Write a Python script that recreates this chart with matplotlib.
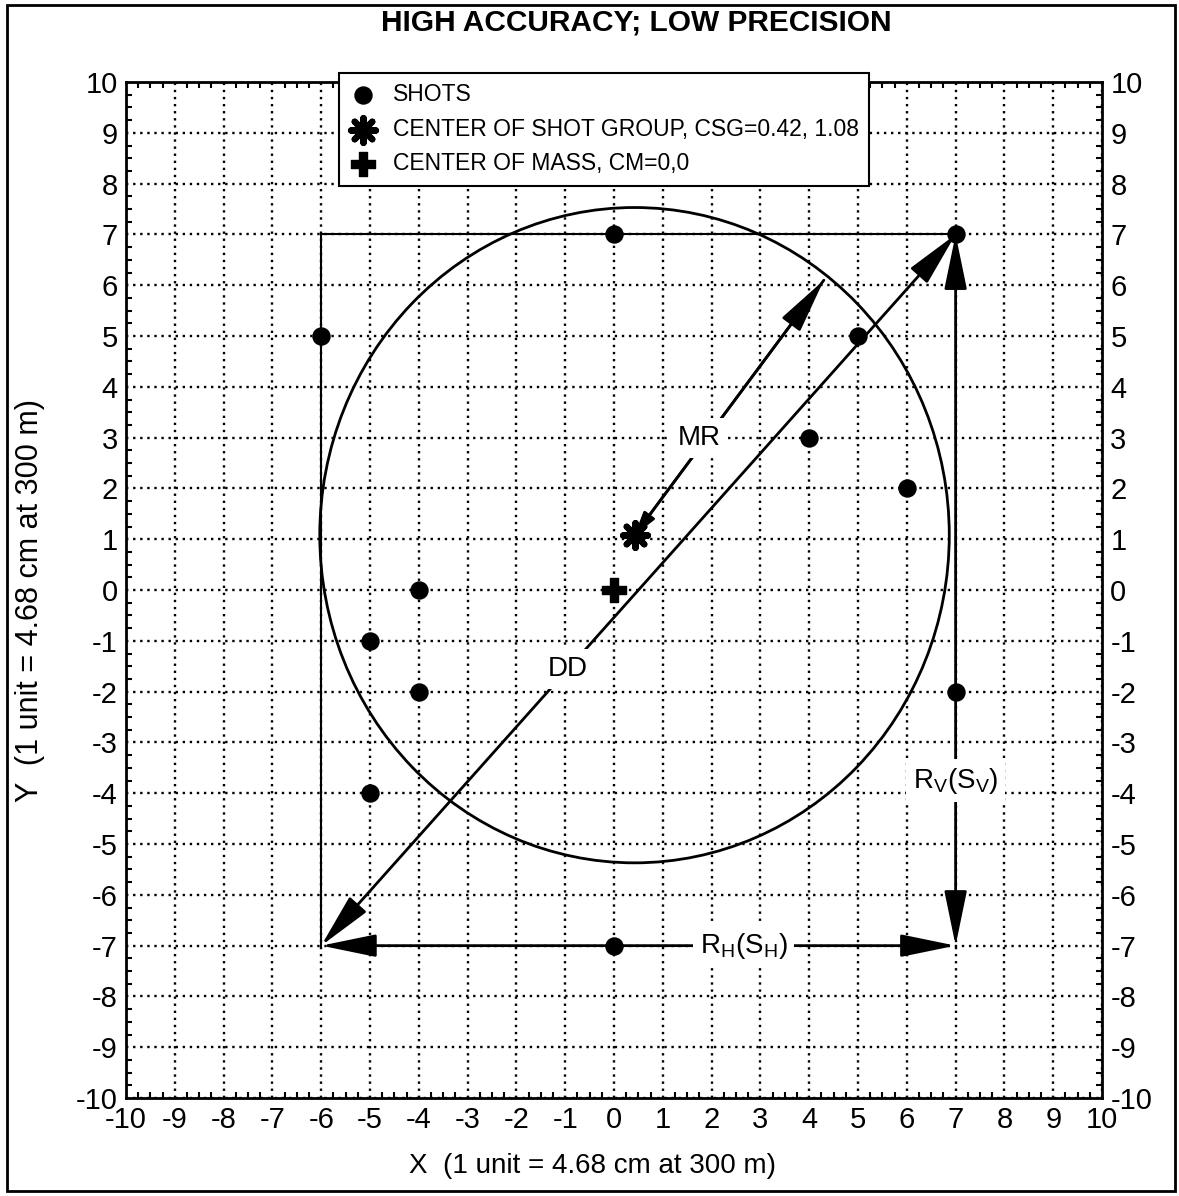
import numpy as np
import matplotlib
matplotlib.use("Agg")
import matplotlib.pyplot as plt
from matplotlib.patches import Circle, Rectangle
from matplotlib.ticker import MultipleLocator

plt.rcParams["font.family"] = ["Liberation Sans", "DejaVu Sans"]
plt.rcParams["axes.unicode_minus"] = False

# ================= DATA =================
shot_x = [0, -6, 5, 4, 6, -4, -5, -4, 7, -5, 0, 7]
shot_y = [7, 5, 5, 3, 2, 0, -1, -2, -2, -4, -7, 7]
csg = (0.42, 1.08)
cm = (0, 0)
circle_radius = 6.45
mr_end = (4.3, 6.1)
ticks = list(range(-10, 11))

# ================= FIGURE =================
fig = plt.figure(figsize=(11.79, 11.96), dpi=100)
ax = fig.add_axes([0.1069, 0.0819, 0.8278, 0.8495])

ax.set_xlim(-10, 10)
ax.set_ylim(-10, 10)
ax.set_xticks(ticks)
ax.set_yticks(ticks)
ax.xaxis.set_minor_locator(MultipleLocator(0.25))
ax.yaxis.set_minor_locator(MultipleLocator(0.25))
ax.tick_params(which="both", direction="in", top=True, right=True,
               labelright=True, labelsize=21, width=1.5, color="black")
ax.tick_params(which="major", length=0, pad=6)
ax.tick_params(which="minor", length=4)
ax.grid(True, which="major", linestyle=(0, (1, 2)), color="black", lw=1.7)
for s in ax.spines.values():
    s.set_linewidth(2)

# outline lines
ax.plot([-6, 7], [7, 7], color="black", lw=1.5, zorder=2)
ax.plot([-6, -6], [-7, 7], color="black", lw=1.5, zorder=2)

# circle
ax.add_patch(Circle(csg, circle_radius, fill=False, ec="black", lw=2, zorder=3))

big = "<|-|>,head_length=3.4,head_width=0.7"
arrow_kw = dict(arrowstyle=big, color="black", lw=2, shrinkA=0, shrinkB=0)

# DD
ax.annotate("", xy=(7, 7), xytext=(-6, -7), arrowprops=arrow_kw, zorder=4)
# MR
ax.annotate("", xy=mr_end, xytext=csg,
            arrowprops=dict(arrowstyle="-|>,head_length=3.4,head_width=0.7",
                            color="black", lw=2, shrinkA=0, shrinkB=0), zorder=4)
ax.annotate("", xy=csg, xytext=mr_end,
            arrowprops=dict(arrowstyle="-|>,head_length=1.4,head_width=0.4",
                            color="black", lw=2, shrinkA=0, shrinkB=0), zorder=4)
# RH
ax.annotate("", xy=(7, -7), xytext=(-6, -7), arrowprops=arrow_kw, zorder=4)
# RV
ax.annotate("", xy=(7, 7), xytext=(7, -7), arrowprops=arrow_kw, zorder=4)

label_kw = dict(fontsize=20, ha="center", va="center", zorder=6,
                bbox=dict(fc="white", ec="none", pad=5))
ax.text(1.75, 3.0, "MR", **label_kw)
ax.text(-0.95, -1.55, "DD", **label_kw)
ax.text(2.65, -7.0, r"R$_\mathregular{H}$(S$_\mathregular{H}$)", **label_kw)
ax.text(7.0, -3.75, r"R$_\mathregular{V}$(S$_\mathregular{V}$)", **label_kw)

# markers
ax.scatter(shot_x, shot_y, s=150, color="black", zorder=7, label="SHOTS")
ax.scatter([csg[0]], [csg[1]], marker=(8, 2, 0), s=320, color="black",
           linewidths=4.5, zorder=7, label="CENTER OF SHOT GROUP, CSG=0.42, 1.08")
ax.scatter([cm[0]], [cm[1]], marker="P", s=280, color="black", zorder=7,
           label="CENTER OF MASS, CM=0,0")

leg = ax.legend(loc="upper left", bbox_to_anchor=(0.2065, 1.02), fontsize=16.5,
                frameon=True, fancybox=False, edgecolor="black", framealpha=1,
                borderpad=0.45, labelspacing=0.5, handletextpad=0.7,
                handlelength=1.2, scatterpoints=1)
leg.get_frame().set_linewidth(1.5)
leg.set_zorder(10)

ax.set_xlabel("X  (1 unit = 4.68 cm at 300 m)", fontsize=20)
ax.set_ylabel("Y  (1 unit = 4.68 cm at 300 m)", fontsize=22)
ax.xaxis.set_label_coords(0.478, -0.054)
ax.yaxis.set_label_coords(-0.083, 0.49)

fig.text(0.54, 0.981, "HIGH ACCURACY; LOW PRECISION", fontsize=21.5,
         fontweight="bold", ha="center", va="center")

# figure border
fig.add_artist(Rectangle((0.006, 0.004), 0.991, 0.992, transform=fig.transFigure,
                         fill=False, ec="black", lw=2))

fig.savefig("out.png", dpi=100)
